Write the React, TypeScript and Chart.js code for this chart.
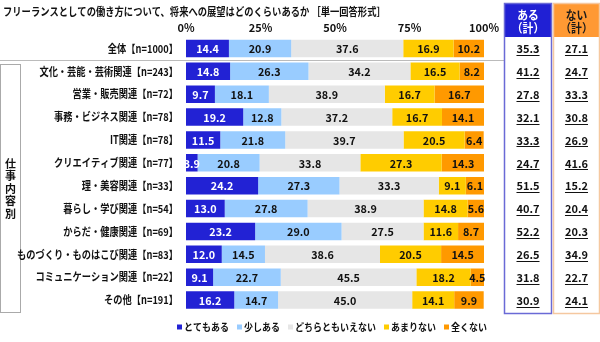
import React, { useEffect, useRef } from 'react';
import { Chart, registerables } from 'chart.js';
Chart.register(...registerables);

const FONT = '"Noto Sans CJK JP", "Noto Sans", sans-serif';

const title = 'フリーランスとしての働き方について、将来への展望はどのくらいあるか ［単一回答形式］';
const groupLabel = '仕事内容別';
const categories = [
  '全体【n=1000】',
  '文化・芸能・芸術関連【n=243】',
  '営業・販売関連【n=72】',
  '事務・ビジネス関連【n=78】',
  'IT関連【n=78】',
  'クリエイティブ関連【n=77】',
  '理・美容関連【n=33】',
  '暮らし・学び関連【n=54】',
  'からだ・健康関連【n=69】',
  'ものづくり・ものはこび関連【n=83】',
  'コミュニケーション関連【n=22】',
  'その他【n=191】',
];
const seriesNames = ['とてもある', '少しある', 'どちらともいえない', 'あまりない', '全くない'];
const seriesColors = ['#2222d4', '#99ccff', '#e6e6e6', '#ffcc00', '#ff9900'];
const veryMuch = [14.4, 14.8, 9.7, 19.2, 11.5, 3.9, 24.2, 13.0, 23.2, 12.0, 9.1, 16.2];
const somewhat = [20.9, 26.3, 18.1, 12.8, 21.8, 20.8, 27.3, 27.8, 29.0, 14.5, 22.7, 14.7];
const neither = [37.6, 34.2, 38.9, 37.2, 39.7, 33.8, 33.3, 38.9, 27.5, 38.6, 45.5, 45.0];
const notMuch = [16.9, 16.5, 16.7, 16.7, 20.5, 27.3, 9.1, 14.8, 11.6, 20.5, 18.2, 14.1];
const notAtAll = [10.2, 8.2, 16.7, 14.1, 6.4, 14.3, 6.1, 5.6, 8.7, 14.5, 4.5, 9.9];
const aruTotal = [35.3, 41.2, 27.8, 32.1, 33.3, 24.7, 51.5, 40.7, 52.2, 26.5, 31.8, 30.9];
const naiTotal = [27.1, 24.7, 33.3, 30.8, 26.9, 41.6, 15.2, 20.4, 20.3, 34.9, 22.7, 24.1];
const xTickValues = [0, 25, 50, 75, 100];
const xTickLabels = ['0%', '25%', '50%', '75%', '100%'];
const aruHeader = ['ある', '（計）'];
const naiHeader = ['ない', '（計）'];

function txt(ctx: CanvasRenderingContext2D, s: string, x: number, y: number, font: string, color: string, align: CanvasTextAlign, sx = 1) {
  ctx.font = font;
  ctx.fillStyle = color;
  ctx.textAlign = align;
  ctx.textBaseline = 'middle';
  const w = ctx.measureText(s).width;
  ctx.fillText(s, x, y, w * sx);
  return w * sx;
}

const overlay = {
  id: 'overlay',
  afterDraw(chart: any) {
    const ctx: CanvasRenderingContext2D = chart.ctx;
    const ys = chart.scales.y;
    const area = chart.chartArea;
    ctx.save();
    // title
    txt(ctx, title, 3, 12, `bold 11px ${FONT}`, '#111', 'left', 0.845);

    // separator under first row
    const sepY = Math.round((ys.getPixelForValue(0) + ys.getPixelForValue(1)) / 2) + 0.5;
    ctx.strokeStyle = '#bbbbbb';
    ctx.lineWidth = 1;
    ctx.beginPath();
    ctx.moveTo(0, sepY);
    ctx.lineTo(504, sepY);
    ctx.stroke();

    // group box
    const gTop = Math.round(ys.getPixelForValue(1) - 7) + 0.5;
    const gBot = Math.round(area.bottom) + 0.5;
    ctx.strokeStyle = '#aaaaaa';
    ctx.strokeRect(0.5, gTop, 20, gBot - gTop);
    const gMid = (gTop + gBot) / 2;
    const chars = Array.from(groupLabel);
    chars.forEach((c, i) => {
      txt(ctx, c, 10.5, gMid + (i - (chars.length - 1) / 2) * 12.5, `bold 11px ${FONT}`, '#111', 'center');
    });

    // category labels
    categories.forEach((c, i) => {
      txt(ctx, c, 178, ys.getPixelForValue(i), `bold 11px ${FONT}`, '#111', 'right', 0.84);
    });

    // bar value labels
    chart.data.datasets.forEach((ds: any, di: number) => {
      const meta = chart.getDatasetMeta(di);
      meta.data.forEach((el: any, i: number) => {
        const v = ds.data[i];
        const cx = (el.x + el.base) / 2;
        txt(ctx, v.toFixed(1), cx, el.y + 0.5, `bold 11px ${FONT}`, di === 0 ? '#ffffff' : '#111', 'center', 0.98);
      });
    });

    // right columns
    const cols = [
      { x0: 504.5, x1: 551.5, fill: '#2020d4', border: '#6a6ad6', head: aruHeader, headColor: '#ffffff', vals: aruTotal },
      { x0: 553.5, x1: 599.5, fill: '#ff9933', border: '#f5c8a0', head: naiHeader, headColor: '#1a1a1a', vals: naiTotal },
    ];
    cols.forEach((col) => {
      const top = 3.5;
      const hb = Math.round(area.top);
      const bot = 313.5;
      ctx.fillStyle = col.fill;
      ctx.fillRect(col.x0, top, col.x1 - col.x0, hb - top);
      ctx.strokeStyle = col.border;
      ctx.lineWidth = 1.5;
      ctx.strokeRect(col.x0, top, col.x1 - col.x0, bot - top);
      const cx = (col.x0 + col.x1) / 2;
      txt(ctx, col.head[0], cx, 15, `bold 12px ${FONT}`, col.headColor, 'center', 0.9);
      txt(ctx, col.head[1], cx, 28, `bold 12px ${FONT}`, col.headColor, 'center', 0.9);
      col.vals.forEach((v, i) => {
        const y = ys.getPixelForValue(i) + 0.5;
        const w = txt(ctx, v.toFixed(1), cx, y, `bold 11px ${FONT}`, '#111', 'center', 1);
        ctx.strokeStyle = '#111';
        ctx.lineWidth = 1;
        ctx.beginPath();
        ctx.moveTo(cx - w / 2, Math.round(y + 6) + 0.5);
        ctx.lineTo(cx + w / 2, Math.round(y + 6) + 0.5);
        ctx.stroke();
      });
    });

    // legend
    const lf = `bold 10px ${FONT}`;
    ctx.font = lf;
    const sx = 0.9;
    const box = 5, gapBox = 2, gapItem = 8;
    const widths = seriesNames.map((n) => ctx.measureText(n).width * sx);
    const total = widths.reduce((a, b) => a + b, 0) + seriesNames.length * (box + gapBox) + (seriesNames.length - 1) * gapItem;
    let lx = 487 - total;
    const ly = 327;
    seriesNames.forEach((n, i) => {
      ctx.fillStyle = seriesColors[i];
      ctx.fillRect(lx, ly - 2.5, box, box);
      lx += box + gapBox;
      txt(ctx, n, lx, ly, lf, '#111', 'left', sx);
      lx += widths[i] + gapItem;
    });
    ctx.restore();
  },
};

export default function App() {
  const ref = useRef<HTMLCanvasElement>(null);
  useEffect(() => {
    const series = [veryMuch, somewhat, neither, notMuch, notAtAll];
    const chart = new Chart(ref.current as HTMLCanvasElement, {
      type: 'bar',
      data: {
        labels: categories,
        datasets: series.map((d, i) => ({
          label: seriesNames[i],
          data: d,
          backgroundColor: seriesColors[i],
          borderWidth: 0,
          barPercentage: 0.77,
          categoryPercentage: 1,
        })),
      },
      options: {
        indexAxis: 'y',
        responsive: false,
        devicePixelRatio: 1,
        animation: false,
        layout: { padding: { left: 186, right: 116, top: 0, bottom: 30.5 } },
        plugins: { legend: { display: false }, tooltip: { enabled: false } },
        scales: {
          x: {
            type: 'linear',
            position: 'top',
            min: 0,
            max: 100,
            stacked: true,
            grid: { display: false, drawTicks: false },
            border: { display: false },
            afterBuildTicks: (s: any) => {
              s.ticks = xTickValues.map((v) => ({ value: v }));
            },
            ticks: {
              callback: (v: any) => xTickLabels[xTickValues.indexOf(Number(v))],
              font: { family: FONT, size: 11, weight: 'bold' },
              color: '#111',
              padding: 3,
              maxRotation: 0,
            },
            afterFit: (s: any) => {
              s.height = 37;
            },
          },
          y: {
            type: 'category',
            stacked: true,
            grid: { display: false, drawTicks: false },
            border: { display: false },
            ticks: { display: false },
            afterFit: (s: any) => {
              s.width = 0;
            },
          },
        },
      },
      plugins: [overlay],
    } as any);
    return () => chart.destroy();
  }, []);
  return (
    <div style={{ position: 'fixed', left: 0, top: 0, width: 600, height: 342, background: '#fff' }}>
      <canvas ref={ref} width={600} height={342} style={{ width: 600, height: 342, display: 'block' }} />
    </div>
  );
}
